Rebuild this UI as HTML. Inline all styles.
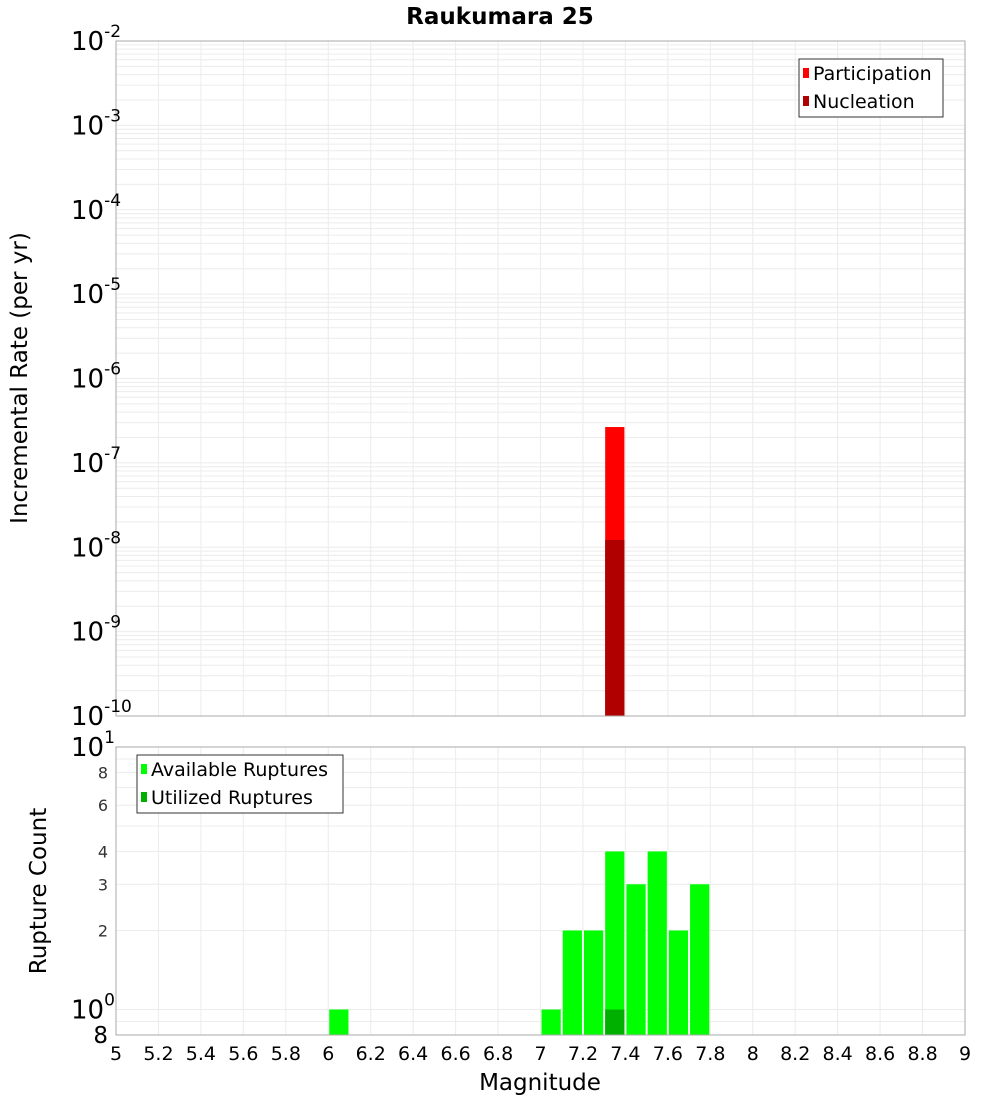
<!DOCTYPE html>
<html><head><meta charset="utf-8"><style>
body{margin:0;background:#fff;font-family:"DejaVu Sans","Liberation Sans",sans-serif}
</style></head><body>
<svg id="c" width="1000" height="1100" xmlns="http://www.w3.org/2000/svg" font-family="DejaVu Sans, Liberation Sans, sans-serif"></svg>
<script>
const binStarts=[7.3];
const participation=[2.66e-7];
const nucleation=[1.22e-8];
const countBins=[6.0,7.0,7.1,7.2,7.3,7.4,7.5,7.6,7.7];
const available=[1,1,2,2,4,3,4,2,3];
const utilizedBins=[7.3];
const utilized=[1];
const xTicks=[5,5.2,5.4,5.6,5.8,6,6.2,6.4,6.6,6.8,7,7.2,7.4,7.6,7.8,8,8.2,8.4,8.6,8.8,9];
const topExps=[-2,-3,-4,-5,-6,-7,-8,-9,-10];
const botTicks=[8,6,4,3,2];

const svg=document.getElementById('c');const NS='http://www.w3.org/2000/svg';
function el(t,a,txt,p){const e=document.createElementNS(NS,t);for(const k in a)e.setAttribute(k,a[k]);if(txt!=null)e.textContent=txt;(p||svg).appendChild(e);return e;}
const L=116,R=965;
const x=m=>L+(m-5)/4*(R-L);
const T1=41,B1=716;const yt=v=>T1+(-2-Math.log10(v))/8*(B1-T1);
const T2=747,B2=1035;const yb=v=>T2+(1-Math.log10(v))*(1009.5-T2);

let e=el('text',{x:500,y:24,'text-anchor':'middle','font-size':23,'font-weight':'bold'},'Raukumara 25');


const g1=el('g',{});
for(let d=-10;d<-2;d++)for(let k=1;k<10;k++){const yy=yt(k*Math.pow(10,d));el('line',{x1:L,x2:R,y1:yy,y2:yy,stroke:'#ececec','stroke-width':1},null,g1);}
xTicks.forEach(t=>el('line',{x1:x(t),x2:x(t),y1:T1,y2:B1,stroke:'#ececec'},null,g1));
const g2=el('g',{});
[0.8,0.9,1,2,3,4,5,6,7,8,9].forEach(v=>{const yy=yb(v);el('line',{x1:L,x2:R,y1:yy,y2:yy,stroke:'#ececec'},null,g2);});
xTicks.forEach(t=>el('line',{x1:x(t),x2:x(t),y1:T2,y2:B2,stroke:'#ececec'},null,g2));

binStarts.forEach((b,i)=>{let r=el('rect',{x:x(b)+1,y:yt(participation[i]),width:x(b+0.1)-x(b)-2,height:B1-yt(participation[i]),fill:'#ff0000'});

r=el('rect',{x:x(b)+1,y:yt(nucleation[i]),width:x(b+0.1)-x(b)-2,height:B1-yt(nucleation[i]),fill:'#b00000'});
});
countBins.forEach((b,i)=>{const r=el('rect',{x:x(b)+1,y:yb(available[i]),width:x(b+0.1)-x(b)-2,height:B2-yb(available[i]),fill:'#00ff00'});
});
utilizedBins.forEach((b,i)=>{const r=el('rect',{x:x(b)+1,y:yb(utilized[i]),width:x(b+0.1)-x(b)-2,height:B2-yb(utilized[i]),fill:'#00b000'});
});

e=el('rect',{x:L,y:T1,width:R-L,height:B1-T1,fill:'none',stroke:'#aaa'});
e=el('rect',{x:L,y:T2,width:R-L,height:B2-T2,fill:'none',stroke:'#aaa'});

topExps.forEach(p=>{const yy=yt(Math.pow(10,p));const t=el('text',{x:71,y:yy+9,'font-size':26});

el('tspan',{},'10',t);el('tspan',{dy:-13,'font-size':17},String(p),t);});
[[10,'1'],[1,'0']].forEach(([v,p])=>{const t=el('text',{x:71,y:yb(v)+9,'font-size':26});

el('tspan',{},'10',t);el('tspan',{dy:-13,'font-size':17},p,t);});
botTicks.forEach(v=>{const t=el('text',{x:108,y:yb(v)+6,'text-anchor':'end','font-size':16,fill:'#333'},String(v));
});
e=el('text',{x:108,y:1043,'text-anchor':'end','font-size':23},'8');
xTicks.forEach(t=>{const s=el('text',{x:x(t),y:1060,'text-anchor':'middle','font-size':19},String(t));
});
e=el('text',{x:540,y:1090,'text-anchor':'middle','font-size':23},'Magnitude');
e=el('text',{x:0,y:0,'text-anchor':'middle','font-size':23,transform:'translate(27,378) rotate(-90)'},'Incremental Rate (per yr)');
e=el('text',{x:0,y:0,'text-anchor':'middle','font-size':23,transform:'translate(46,891) rotate(-90)'},'Rupture Count');

function legend(name,x0,y0,w,items){const g=el('g',{});
el('rect',{x:x0,y:y0,width:w,height:58,fill:'#fff',stroke:'#333'},null,g);
items.forEach((it,i)=>{const yy=y0+14+i*28;const r=el('rect',{x:x0+4,y:yy-5,width:6,height:10,fill:it[1]},null,g);

const t=el('text',{x:x0+14,y:yy+7,'font-size':19},it[0],g);});}
legend('top-legend',799,59,144,[['Participation','#ff0000'],['Nucleation','#b00000']]);
legend('bottom-legend',137,755,206,[['Available Ruptures','#00ff00'],['Utilized Ruptures','#00b000']]);
</script>
</body></html>
